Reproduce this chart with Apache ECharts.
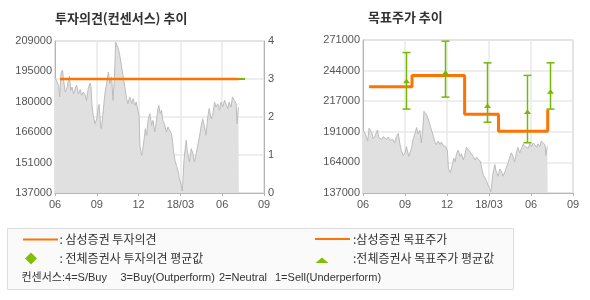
<!DOCTYPE html>
<html><head><meta charset="utf-8">
<script src="https://cdn.jsdelivr.net/npm/echarts@6/dist/echarts.min.js"></script>
<style>html,body{margin:0;padding:0;background:#fff}#c{width:590px;height:300px}</style>
</head><body><div id="c"></div>
<script>
const xTickLabels = ['06','09','12','18/03','06','09'];
const leftPriceTicks = [137000,151000,166000,180000,195000,209000];
const rightPriceTicks = [137000,164000,191000,217000,244000,271000];
const opinionTicks = ['0','1','2','3','4'];

const priceDates = ['2017-06-01','2017-06-05','2017-06-09','2017-06-11','2017-06-14','2017-06-17','2017-06-20','2017-06-23','2017-06-27','2017-06-30',
'2017-07-02','2017-07-05','2017-07-08','2017-07-11','2017-07-15','2017-07-18','2017-07-22','2017-07-26','2017-07-29',
'2017-08-02','2017-08-06','2017-08-09','2017-08-13','2017-08-17','2017-08-19','2017-08-21','2017-08-24','2017-08-28',
'2017-09-01','2017-09-04','2017-09-06','2017-09-09','2017-09-11','2017-09-15','2017-09-18','2017-09-22','2017-09-26','2017-09-29',
'2017-10-03','2017-10-06','2017-10-09','2017-10-12','2017-10-14','2017-10-18','2017-10-21','2017-10-25','2017-10-27','2017-10-30',
'2017-11-02','2017-11-05','2017-11-08','2017-11-12','2017-11-16','2017-11-19','2017-11-23','2017-11-26','2017-11-28',
'2017-12-02','2017-12-04','2017-12-08','2017-12-10','2017-12-13','2017-12-16','2017-12-19','2017-12-22','2017-12-26','2017-12-30',
'2018-01-02','2018-01-06','2018-01-09','2018-01-13','2018-01-15','2018-01-18','2018-01-21','2018-01-24','2018-01-28',
'2018-02-01','2018-02-04','2018-02-07','2018-02-11','2018-02-13','2018-02-15','2018-02-18','2018-02-21','2018-02-24','2018-02-27',
'2018-03-03','2018-03-05','2018-03-06','2018-03-09','2018-03-12','2018-03-14','2018-03-16','2018-03-19','2018-03-21','2018-03-25','2018-03-29',
'2018-04-01','2018-04-05','2018-04-08','2018-04-12','2018-04-16','2018-04-19','2018-04-23','2018-04-26','2018-04-30',
'2018-05-03','2018-05-07','2018-05-11','2018-05-15','2018-05-18','2018-05-22','2018-05-26','2018-05-29',
'2018-06-02','2018-06-06','2018-06-09','2018-06-13','2018-06-16','2018-06-20','2018-06-23','2018-06-27',
'2018-07-01','2018-07-03','2018-07-06','2018-07-07'];
const prices = [192000,189600,188000,182500,193800,195300,189600,184800,186900,190400,
192300,185600,187200,184000,186400,188000,184000,186000,183300,
184800,183600,180900,186400,189100,187500,179300,173800,169800,
172200,177700,179000,169100,167500,176200,183300,188800,194300,188800,
192000,180900,190400,208500,209000,205400,202200,203000,194300,190400,
186400,181700,179300,182500,179300,181700,178500,180100,177700,
173800,158800,154800,157200,162000,167500,164300,171400,174600,169100,
171400,165900,169800,177000,178500,174600,176200,171400,169100,
165900,168300,167500,165100,162000,157200,152500,150100,147700,143800,
140600,137900,140600,152500,158800,162000,157200,154000,151700,158000,155600,
151700,155600,156400,163500,169100,172200,168300,164300,173000,
177000,172200,173800,180100,177700,179300,176200,180100,
177700,180900,179300,177000,180100,177700,182500,180900,
179300,169800,177700,177700];

const opinionDates = ['2017-06-12','2018-07-06'];
const opinionValues = [3,3];
const consOpinionDates = ['2017-06-12','2018-07-21'];
const consOpinionValues = [3,3];

const targetDates = ['2017-06-14','2017-09-16','2018-01-09','2018-03-22','2018-07-07'];
const targetValues = [230000,240000,206000,191000,210000];

const consTargetDates = ['2017-09-04','2017-11-26','2018-02-24','2018-05-24','2018-07-12'];
const consTargetHigh = [260000,270000,251000,240000,251000];
const consTargetLow = [210500,221000,199000,181000,210500];
const consTargetMean = [234500,241800,212700,207500,225200];

function monthPos(s){const [y,m,d]=s.split('-').map(Number);const dim=new Date(y,m,0).getDate();return (y-2017)*12+(m-6)+(d-1)/dim;}
const pricePts = priceDates.map((d,i)=>[monthPos(d),prices[i]]);

const ORANGE='#ff7300', GREEN='#77b800', GRID='#e8e8e8', AXIS='#b4b4b4', LBL='#555';
const FONT='"Liberation Sans", Arial, sans-serif';
const KFONT='"Noto Sans CJK KR", sans-serif';

function xAxis(gi){return {type:'value',gridIndex:gi,min:0,max:15,interval:3,
  axisLine:{lineStyle:{color:AXIS}},axisTick:{show:true,length:3,lineStyle:{color:AXIS}},
  splitLine:{show:true,lineStyle:{color:GRID,width:1.5}},
  axisLabel:{color:LBL,fontSize:11,fontFamily:FONT,margin:6,formatter:v=>xTickLabels[Math.round(v/3)]}};}
function priceAxis(gi,ticks,split){const mn=ticks[0],mx=ticks[ticks.length-1],iv=(mx-mn)/5;
  return {type:'value',gridIndex:gi,min:mn,max:mx,interval:iv,position:'left',
  axisLine:{show:true,lineStyle:{color:AXIS}},axisTick:{show:false},
  splitLine:{show:split,lineStyle:{color:GRID,width:1.5}},
  axisLabel:{color:LBL,fontSize:11,fontFamily:FONT,margin:3,formatter:v=>String(ticks[Math.round((v-mn)/iv)])}};}

const errData = consTargetDates.map((d,i)=>[monthPos(d),consTargetLow[i],consTargetHigh[i],consTargetMean[i]]);

const chart = echarts.init(document.getElementById('c'),null,{renderer:'canvas'});
const LF='12px '+KFONT;
const RF='11px "Liberation Sans", "Noto Sans CJK KR", sans-serif';
chart.setOption({
  animation:false,
  grid:[
    {left:55,right:326,top:41,bottom:107,show:true,borderColor:AXIS,borderWidth:1,backgroundColor:'transparent'},
    {left:363,right:17,top:40,bottom:107,show:true,borderColor:AXIS,borderWidth:1,backgroundColor:'transparent'}
  ],
  xAxis:[xAxis(0),xAxis(1)],
  yAxis:[
    priceAxis(0,leftPriceTicks,false),
    {type:'value',gridIndex:0,min:0,max:4,interval:1,position:'right',
     axisLine:{show:true,lineStyle:{color:AXIS}},axisTick:{show:false},
     splitLine:{show:true,lineStyle:{color:GRID,width:1.5}},
     axisLabel:{color:LBL,fontSize:11,fontFamily:FONT,margin:4,formatter:v=>opinionTicks[Math.round(v)]}},
    priceAxis(1,rightPriceTicks,true)
  ],
  series:[
    {type:'line',xAxisIndex:0,yAxisIndex:0,data:pricePts,symbol:'none',
     lineStyle:{color:'#bcbcbc',width:1},areaStyle:{color:'#e0e0e0',opacity:1},z:1},
    {type:'line',xAxisIndex:0,yAxisIndex:1,data:consOpinionDates.map((d,i)=>[monthPos(d),consOpinionValues[i]]),
     symbol:'none',lineStyle:{color:GREEN,width:2},z:3},
    {type:'line',xAxisIndex:0,yAxisIndex:1,data:opinionDates.map((d,i)=>[monthPos(d),opinionValues[i]]),
     symbol:'none',lineStyle:{color:ORANGE,width:2.5},z:4},
    {type:'line',xAxisIndex:1,yAxisIndex:2,data:pricePts,symbol:'none',
     lineStyle:{color:'#bcbcbc',width:1},areaStyle:{color:'#e0e0e0',opacity:1},z:1},
    {type:'line',xAxisIndex:1,yAxisIndex:2,step:'end',data:targetDates.map((d,i)=>[monthPos(d),targetValues[i]]),
     symbol:'none',lineStyle:{color:ORANGE,width:3},z:4},
    {type:'custom',xAxisIndex:1,yAxisIndex:2,data:errData,z:5,
     renderItem:function(params,api){
       const x=api.value(0);
       const pH=api.coord([x,api.value(2)]),pL=api.coord([x,api.value(1)]),pM=api.coord([x,api.value(3)]);
       const cx=Math.round(pH[0])+0.5, cap=4;
       const st={stroke:GREEN,lineWidth:1.5};
       return {type:'group',children:[
         {type:'line',shape:{x1:cx,y1:pH[1],x2:cx,y2:pL[1]},style:st},
         {type:'line',shape:{x1:cx-cap,y1:pH[1],x2:cx+cap,y2:pH[1]},style:st},
         {type:'line',shape:{x1:cx-cap,y1:pL[1],x2:cx+cap,y2:pL[1]},style:st},
         {type:'polygon',shape:{points:[[cx,pM[1]-3],[cx-3.5,pM[1]+1.5],[cx+3.5,pM[1]+1.5]]},style:{fill:GREEN}}
       ]};
     }}
  ],
  graphic:[
    {type:'text',left:55,top:12,style:{text:'투자의견(컨센서스) 추이',font:'bold 13px '+KFONT,fill:'#333'}},
    {type:'text',left:368,top:11,style:{text:'목표주가 추이',font:'bold 13px '+KFONT,fill:'#333'}},
    {type:'rect',shape:{x:7.5,y:228.5,width:506,height:61},style:{fill:'#fafafa',stroke:'#dcdcdc',lineWidth:1}},
    {type:'line',shape:{x1:23,y1:239.5,x2:58,y2:239.5},style:{stroke:ORANGE,lineWidth:2}},
    {type:'text',x:59.5,y:239.5,style:{text:': 삼성증권 투자의견',font:LF,fill:'#333',verticalAlign:'middle'}},
    {type:'line',shape:{x1:315,y1:239,x2:350,y2:239},style:{stroke:ORANGE,lineWidth:2}},
    {type:'text',x:353,y:239.5,style:{text:':삼성증권 목표주가',font:LF,fill:'#333',verticalAlign:'middle'}},
    {type:'polygon',shape:{points:[[31,252.5],[37,258.5],[31,264.5],[25,258.5]]},style:{fill:'#80c000'}},
    {type:'text',x:59.5,y:258.5,style:{text:': 전체증권사 투자의견 평균값',font:LF,fill:'#333',verticalAlign:'middle'}},
    {type:'polygon',shape:{points:[[322,257.5],[328.5,263],[315.5,263]]},style:{fill:'#80c000'}},
    {type:'text',x:353,y:258.5,style:{text:':전체증권사 목표주가 평균값',font:LF,fill:'#333',verticalAlign:'middle'}},
    {type:'text',x:21.5,y:277.5,style:{text:'컨센서스:4=S/Buy',font:RF,fill:'#333',verticalAlign:'middle'}},
    {type:'text',x:120.5,y:277.5,style:{text:'3=Buy(Outperform)',font:RF,fill:'#333',verticalAlign:'middle'}},
    {type:'text',x:219,y:277.5,style:{text:'2=Neutral',font:RF,fill:'#333',verticalAlign:'middle'}},
    {type:'text',x:275,y:277.5,style:{text:'1=Sell(Underperform)',font:RF,fill:'#333',verticalAlign:'middle'}}
  ]
});
</script></body></html>
